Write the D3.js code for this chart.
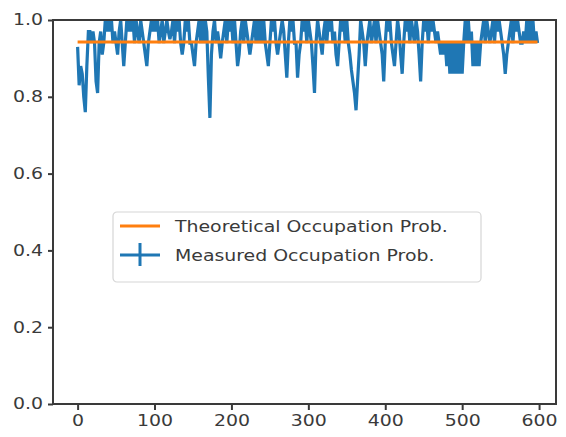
<!DOCTYPE html>
<html>
<head>
<meta charset="utf-8">
<script src="https://cdn.jsdelivr.net/npm/d3@7"></script>
<style>
  html, body { margin: 0; padding: 0; background: #fff; }
  svg { display: block; }
  text { font-family: "DejaVu Sans", sans-serif; }
</style>
</head>
<body>
<svg id="chart" width="566" height="437"></svg>
<script>
// Measured occupation probability, one sample every 2 steps
const stepSize = 2;
const measured = [
  0.93, 0.83, 0.88, 0.86, 0.80, 0.76, 0.88, 0.97, 0.97, 0.94,
  0.97, 0.94, 0.84, 0.81, 0.94, 0.97, 0.91, 0.94, 1.00, 0.97,
  1.00, 0.97, 1.00, 0.94, 0.97, 0.94, 0.91, 0.97, 1.00, 0.94,
  0.88, 0.94, 1.00, 0.97, 1.00, 0.97, 1.00, 0.94, 1.00, 0.97,
  0.94, 1.00, 0.97, 0.94, 0.91, 0.88, 0.94, 0.97, 1.00, 0.97,
  1.00, 0.97, 1.00, 0.94, 0.97, 1.00, 0.94, 0.97, 1.00, 0.97,
  0.95, 0.97, 1.00, 0.94, 1.00, 0.97, 1.00, 0.94, 0.91, 0.94,
  1.00, 0.97, 1.00, 0.94, 0.94, 0.91, 0.88, 0.94, 0.97, 1.00,
  0.94, 1.00, 0.94, 1.00, 0.97, 0.85, 0.745, 0.91, 0.97, 1.00,
  0.94, 0.97, 0.94, 0.90, 0.94, 0.97, 1.00, 0.94, 1.00, 0.97,
  1.00, 0.94, 1.00, 0.94, 0.88, 0.91, 0.97, 1.00, 0.94, 1.00,
  0.97, 0.94, 0.91, 0.94, 0.97, 1.00, 0.94, 1.00, 0.94, 1.00,
  0.94, 1.00, 0.94, 0.91, 0.88, 0.94, 1.00, 0.97, 1.00, 0.94,
  0.91, 0.94, 0.97, 1.00, 0.97, 0.91, 0.85, 0.94, 1.00, 0.97,
  1.00, 0.94, 0.94, 0.85, 0.91, 0.94, 1.00, 0.97, 1.00, 0.94,
  1.00, 0.97, 0.94, 0.88, 0.81, 0.94, 1.00, 0.97, 0.94, 0.91,
  0.97, 1.00, 0.94, 1.00, 0.97, 1.00, 0.94, 0.97, 0.91, 0.88,
  0.94, 1.00, 0.97, 1.00, 0.94, 1.00, 0.94, 0.91, 0.87, 0.84,
  0.81, 0.765, 0.84, 0.91, 1.00, 0.97, 0.94, 0.88, 0.94, 0.97,
  1.00, 0.94, 0.97, 1.00, 0.94, 1.00, 0.97, 0.94, 0.91, 0.84,
  0.94, 1.00, 0.97, 1.00, 0.94, 0.91, 0.88, 0.94, 1.00, 0.97,
  0.91, 0.86, 0.94, 1.00, 0.97, 1.00, 0.94, 1.00, 0.97, 0.94,
  1.00, 0.97, 0.91, 0.84, 0.94, 1.00, 0.97, 1.00, 0.94, 1.00,
  0.97, 1.00, 0.97, 0.94, 0.97, 0.94, 0.91, 0.94, 0.91, 0.94,
  0.88, 0.94, 0.86, 0.94, 0.86, 0.94, 0.86, 0.94, 0.86, 0.94,
  0.86, 0.94, 1.00, 0.94, 1.00, 0.94, 0.97, 0.88, 0.94, 0.88,
  0.94, 0.88, 0.94, 0.97, 1.00, 0.94, 1.00, 0.97, 0.94, 0.97,
  1.00, 0.94, 1.00, 0.97, 1.00, 0.97, 0.94, 0.91, 0.86, 0.91,
  0.94, 0.97, 1.00, 0.94, 1.00, 0.97, 1.00, 0.97, 0.94, 0.94,
  0.97, 0.94, 1.00, 0.94, 1.00, 0.94, 1.00, 0.94, 0.97, 0.94
];
const theoretical = 0.943;

const xTicks = [0, 100, 200, 300, 400, 500, 600];
const yTicks = [0.0, 0.2, 0.4, 0.6, 0.8, 1.0];
const legendLabels = ["Theoretical Occupation Prob.", "Measured Occupation Prob."];

const colors = { theory: "#ff7f0e", measured: "#1f77b4" };
const ink = "#3a3a3a";
const fontSize = 15.5;
const widen = 1.22;

const points = measured.map((v, i) => ({ x: i * stepSize, y: v }));
const xMax = points[points.length - 1].x;

const svg = d3.select("#chart");
const plot = { left: 53, right: 556, top: 20, bottom: 404 };

const x = d3.scaleLinear().domain([-32, 622]).range([plot.left, plot.right]);
const y = d3.scaleLinear().domain([0, 1]).range([plot.bottom, plot.top]);

svg.append("defs").append("clipPath").attr("id", "plot-clip")
  .append("rect")
  .attr("x", plot.left).attr("y", plot.top)
  .attr("width", plot.right - plot.left).attr("height", plot.bottom - plot.top);

const g = svg.append("g").attr("clip-path", "url(#plot-clip)");

// measured series
g.append("path")
  .datum(points)
  .attr("fill", "none")
  .attr("stroke", colors.measured)
  .attr("stroke-width", 3.2)
  .attr("d", d3.line().x(d => x(d.x)).y(d => y(d.y)));

// theoretical level
g.append("path")
  .datum([{ x: 0, y: theoretical }, { x: xMax, y: theoretical }])
  .attr("fill", "none")
  .attr("stroke", colors.theory)
  .attr("stroke-width", 3)
  .attr("d", d3.line().x(d => x(d.x)).y(d => y(d.y)));

// axes
const xAxis = d3.axisBottom(x).tickValues(xTicks).tickSize(6).tickPadding(5).tickFormat(d3.format("d"));
const yAxis = d3.axisLeft(y).tickValues(yTicks).tickSize(5).tickPadding(5).tickFormat(d3.format(".1f"));

const gx = svg.append("g").attr("transform", `translate(0,${plot.bottom})`).call(xAxis);
const gy = svg.append("g").attr("transform", `translate(${plot.left},0)`).call(yAxis);
[gx, gy].forEach(a => {
  a.select(".domain").remove();
  a.selectAll(".tick line").attr("stroke", ink).attr("stroke-width", 2);
  a.selectAll(".tick text")
    .attr("fill", ink)
    .style("font-size", fontSize + "px")
    .style("font-family", "'DejaVu Sans', sans-serif")
    .each(function () {
      const t = d3.select(this);
      const x0 = +t.attr("x") || 0;
      t.attr("x", x0 / widen).attr("transform", `scale(${widen},1)`);
    });
});

// frame
svg.append("rect")
  .attr("x", plot.left).attr("y", plot.top)
  .attr("width", plot.right - plot.left).attr("height", plot.bottom - plot.top)
  .attr("fill", "none").attr("stroke", ink).attr("stroke-width", 2);

// legend
const lg = svg.append("g").attr("transform", "translate(113,212)");
lg.append("rect")
  .attr("width", 368).attr("height", 70).attr("rx", 4)
  .attr("fill", "#fff").attr("fill-opacity", 0.85)
  .attr("stroke", "#d6d6d6").attr("stroke-width", 1.2);

const rows = [
  { label: legendLabels[0], color: colors.theory, err: false, cy: 14 },
  { label: legendLabels[1], color: colors.measured, err: true, cy: 43 }
];
rows.forEach(r => {
  lg.append("line").attr("x1", 7).attr("x2", 47).attr("y1", r.cy).attr("y2", r.cy)
    .attr("stroke", r.color).attr("stroke-width", 3);
  if (r.err) {
    lg.append("line").attr("x1", 27).attr("x2", 27).attr("y1", r.cy - 12).attr("y2", r.cy + 11)
      .attr("stroke", r.color).attr("stroke-width", 3);
  }
  lg.append("text")
    .attr("x", 62 / widen).attr("y", r.cy).attr("dy", "0.36em")
    .attr("transform", `scale(${widen},1)`)
    .attr("fill", ink).style("font-size", fontSize + "px").text(r.label);
});
</script>
</body>
</html>
